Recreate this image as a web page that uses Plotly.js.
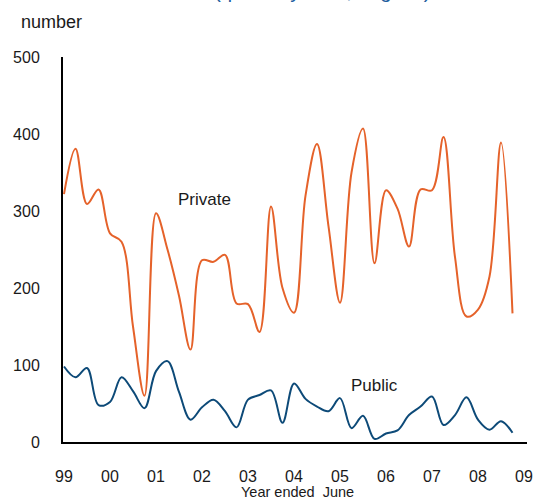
<!DOCTYPE html>
<html>
<head>
<meta charset="utf-8">
<script src="https://cdn.plot.ly/plotly-3.0.1.min.js"></script>
<style>
  html, body { margin: 0; padding: 0; background: #ffffff; overflow: hidden; }
  #chart { width: 533px; height: 499px; }
</style>
</head>
<body>
<div id="chart"></div>
<script>
// Year labels (year ended June), one per 4 quarters
const yearLabels = ["99", "00", "01", "02", "03", "04", "05", "06", "07", "08", "09"];

// Quarterly values (number)
const privateValues = [322, 381, 309, 328, 271, 260, 150, 60, 297, 250,
                       190, 120, 236, 234, 243, 180, 179, 143, 306, 200,
                       168, 320, 387, 280, 181, 350, 407, 232, 327, 303,
                       254, 328, 327, 396, 240, 163, 172, 215, 389, 167];
const publicValues = [98, 84, 96, 48, 52, 84, 66, 44, 92, 105,
                      65, 29, 45, 55, 40, 19, 55, 61, 67, 25,
                      76, 56, 46, 40, 57, 18, 34, 4, 11, 15,
                      35, 46, 59, 22, 35, 58, 29, 16, 27, 12];

const yTicks = [0, 100, 200, 300, 400, 500];

const quarterIndex = privateValues.map((_, i) => i);
const yearTickVals = yearLabels.map((_, k) => k * 4);

const font = "Liberation Sans, Arial, sans-serif";

const traces = [
  {
    x: quarterIndex, y: privateValues, type: "scatter", mode: "lines",
    name: "Private",
    line: { color: "#e5622a", width: 2, shape: "spline", smoothing: 1 },
    hoverinfo: "skip"
  },
  {
    x: quarterIndex, y: publicValues, type: "scatter", mode: "lines",
    name: "Public",
    line: { color: "#0d4a78", width: 2, shape: "spline", smoothing: 1 },
    hoverinfo: "skip"
  }
];

const layout = {
  width: 533, height: 499,
  margin: { l: 63, r: 6, t: 57, b: 57, pad: 0 },
  paper_bgcolor: "#ffffff", plot_bgcolor: "#ffffff",
  showlegend: false,
  font: { family: font, size: 16, color: "#1a1a1a" },
  xaxis: {
    range: [-0.087, 40.26],
    tickvals: yearTickVals, ticktext: yearLabels,
    ticks: "", showgrid: false, zeroline: false,
    showline: true, linecolor: "#000000", linewidth: 2,
    ticklabelstandoff: 19,
    ticklabeloverflow: "allow",
    tickfont: { family: font, size: 16, color: "#1a1a1a" }
  },
  yaxis: {
    range: [0, 500],
    tickvals: yTicks,
    ticks: "", showgrid: false, zeroline: false,
    showline: true, linecolor: "#000000", linewidth: 2,
    ticklabelstandoff: 18,
    tickfont: { family: font, size: 16, color: "#1a1a1a" }
  },
  annotations: [
    { text: "(quarterly data, original)", xref: "paper", yref: "paper",
      x: 0.559, y: 1.173, xanchor: "center", yanchor: "middle", showarrow: false,
      font: { family: font, size: 20.5, color: "#1f5f9f" } },
    { text: "number", xref: "paper", yref: "paper",
      x: -0.024, y: 1.091, xanchor: "center", yanchor: "middle", showarrow: false,
      font: { family: font, size: 18, color: "#1a1a1a" } },
    { text: "Private", xref: "paper", yref: "paper",
      x: 0.304, y: 0.629, xanchor: "center", yanchor: "middle", showarrow: false,
      font: { family: font, size: 17, color: "#1a1a1a" } },
    { text: "Public", xref: "paper", yref: "paper",
      x: 0.671, y: 0.148, xanchor: "center", yanchor: "middle", showarrow: false,
      font: { family: font, size: 17, color: "#1a1a1a" } },
    { text: "Year ended  June", xref: "paper", yref: "paper",
      x: 0.505, y: -0.131, xanchor: "center", yanchor: "middle", showarrow: false,
      font: { family: font, size: 14.5, color: "#1a1a1a" } }
  ]
};

Plotly.newPlot("chart", traces, layout, { displayModeBar: false, staticPlot: true });
</script>
</body>
</html>
